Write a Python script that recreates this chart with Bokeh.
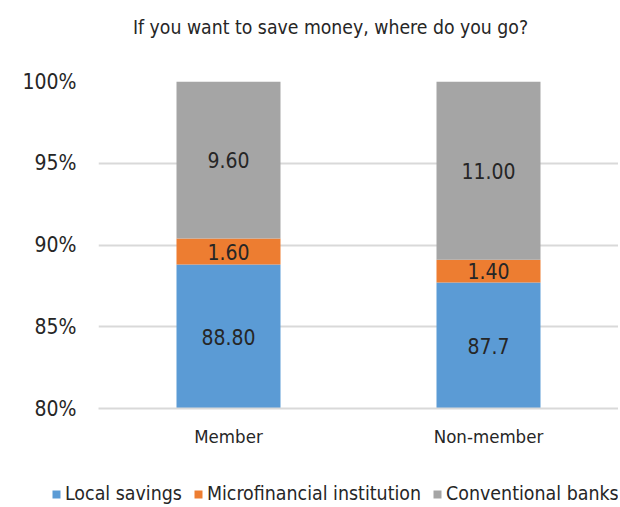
from bokeh.plotting import figure
from bokeh.layouts import column
from bokeh.models import ColumnDataSource, Legend, LegendItem, FactorRange, Range1d, Label
from bokeh.core.properties import value
from bokeh.embed import file_html
from bokeh.resources import INLINE

title_text = "If you want to save money, where do you go?"
groups = ["Member", "Non-member"]
series = ["Local savings", "Microfinancial institution", "Conventional banks"]
local_savings = [88.80, 87.7]
microfinance = [1.60, 1.40]
conventional = [9.60, 11.00]
label_local = ["88.80", "87.7"]
label_micro = ["1.60", "1.40"]
label_conv = ["9.60", "11.00"]
y_ticks = [80, 85, 90, 95, 100]
colors = ["#5B9BD5", "#ED7D31", "#A5A5A5"]

FONT = "DejaVu Sans Condensed, Roboto, sans-serif"
TXT = "#262626"
YMIN, YMAX = 80, 100


def strip(h):
    f = figure(width=618, height=h, output_backend="svg", toolbar_location=None,
               x_range=Range1d(0, 1), y_range=Range1d(0, 1),
               x_axis_type=None, y_axis_type=None,
               min_border_left=0, min_border_right=0, min_border_top=0, min_border_bottom=0)
    f.outline_line_color = None
    f.grid.grid_line_color = None
    return f


# title strip
pt = strip(54)
pt.add_layout(Label(x=330, y=27, x_units="screen", y_units="screen", text=title_text,
                    text_align="center", text_baseline="middle", text_font=FONT,
                    text_font_size="19.25px", text_color=TXT))

src = ColumnDataSource(dict(
    group=groups,
    local=local_savings,
    micro=microfinance,
    conv=conventional,
))

p = figure(x_range=FactorRange(*groups), y_range=(YMIN, YMAX),
           width=618, height=406, output_backend="svg", toolbar_location=None,
           min_border_left=98, min_border_right=0, min_border_bottom=52, min_border_top=27)

rs = p.vbar_stack(["local", "micro", "conv"], x="group", width=0.4, color=colors,
                  line_color=None, source=src)

b0 = [YMIN] * 2
t0 = local_savings
t1 = [a + b for a, b in zip(local_savings, microfinance)]
t2 = [min(YMAX, a + b) for a, b in zip(t1, conventional)]
ys, xs, texts = [], [], []
for lo, hi, lab in [(b0, t0, label_local), (t0, t1, label_micro), (t1, t2, label_conv)]:
    for g, l, h, s in zip(groups, lo, hi, lab):
        xs.append(g)
        ys.append((max(l, YMIN) + h) / 2)
        texts.append(s)
lsrc = ColumnDataSource(dict(x=xs, y=ys, t=texts))
p.text(x="x", y="y", text="t", source=lsrc, text_align="center", text_baseline="middle",
       text_font=value(FONT), text_font_size="21px", text_color=TXT)

p.yaxis.ticker = y_ticks
p.yaxis.major_label_overrides = {t: f"{t}%" for t in y_ticks}
p.yaxis.axis_line_color = None
p.yaxis.major_tick_line_color = None
p.yaxis.minor_tick_line_color = None
p.yaxis.major_label_standoff = 16
p.yaxis.major_label_text_font = FONT
p.yaxis.major_label_text_font_size = "21px"
p.yaxis.major_label_text_color = TXT

p.xaxis.axis_line_color = "#D9D9D9"
p.xaxis.axis_line_width = 2
p.xaxis.major_tick_line_color = None
p.xaxis.minor_tick_line_color = None
p.xaxis.major_label_standoff = 11
p.xaxis.major_label_text_font = FONT
p.xaxis.major_label_text_font_size = "18.5px"
p.xaxis.major_label_text_color = TXT

p.xgrid.grid_line_color = None
p.ygrid.grid_line_color = "#D9D9D9"
p.ygrid.grid_line_width = 2
p.outline_line_color = None
p.background_fill_color = "white"

# legend strip below the chart
pl = strip(45)
for fig in (pt, p, pl):
    if "frame_align" in fig.properties():
        fig.frame_align = False
dummies = [pl.vbar(x=[5], top=[5], bottom=[4], width=0.1, color=c, line_color=None) for c in colors]
legend = Legend(items=[LegendItem(label=s, renderers=[r]) for s, r in zip(series, dummies)],
                orientation="horizontal", location=(51, 0),
                label_text_font=FONT, label_text_font_size="19.4px", label_text_color=TXT,
                glyph_width=10, glyph_height=10, label_standoff=4, spacing=11,
                padding=0, margin=0, border_line_color=None, background_fill_alpha=0)
pl.add_layout(legend, "center")

layout = column(pt, p, pl, spacing=0)
open("out.html", "w").write(file_html(layout, INLINE))
